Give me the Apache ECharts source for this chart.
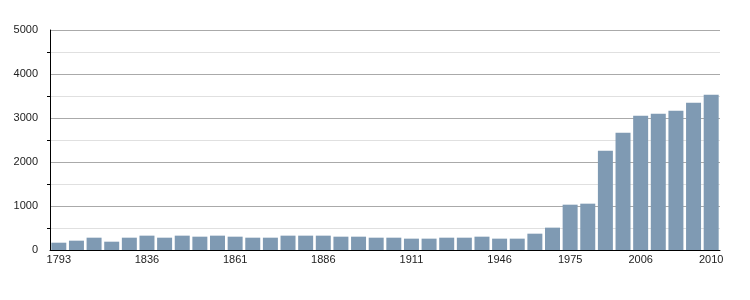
<!DOCTYPE html>
<html>
<head>
<meta charset="utf-8">
<script src="https://cdn.jsdelivr.net/npm/echarts@6/dist/echarts.min.js"></script>
<style>html,body{margin:0;padding:0;background:#fff}#c{width:750px;height:300px}</style>
</head>
<body>
<div id="c"></div>
<script>
var years = ['1793','1800','1806','1821','1831','1836','1841','1846','1851','1856','1861','1866','1872','1876','1881','1886','1891','1896','1901','1906','1911','1921','1926','1931','1936','1946','1954','1962','1968','1975','1982','1990','1999','2006','2007','2008','2009','2010'];
var population = [166,212,280,189,280,326,280,326,303,326,303,280,280,326,326,326,303,303,280,280,258,258,280,280,303,258,258,371,508,1030,1053,2258,2667,3053,3098,3167,3349,3530];
var shownLabelIndices = [0,5,10,15,20,25,29,33,37];
var yTicks = [0,1000,2000,3000,4000,5000];

var chart = echarts.init(document.getElementById('c'), null, {renderer:'canvas'});
chart.setOption({
  animation: false,
  backgroundColor: '#fff',
  grid: {left: 50, right: 30, top: 30, bottom: 50},
  xAxis: {
    type: 'category',
    data: years,
    axisLine: {lineStyle: {color: '#000', width: 1}},
    axisTick: {show: false},
    axisLabel: {
      interval: function(i){ return shownLabelIndices.indexOf(i) >= 0; },
      color: '#222', fontSize: 11, fontFamily: 'Liberation Sans, Arial, sans-serif', margin: 4
    }
  },
  yAxis: {
    type: 'value',
    min: yTicks[0], max: yTicks[yTicks.length-1], interval: 1000,
    axisLine: {show: true, lineStyle: {color: '#000', width: 1}},
    axisTick: {show: false},
    minorTick: {show: true, splitNumber: 2, length: 3, lineStyle: {color: '#000'}},
    minorSplitLine: {show: true, lineStyle: {color: '#e0e0e0', width: 1}},
    splitLine: {show: true, lineStyle: {color: '#aaa', width: 1}},
    axisLabel: {
      formatter: function(v){ return String(v); },
      color: '#222', fontSize: 11, fontFamily: 'Liberation Sans, Arial, sans-serif', margin: 12
    }
  },
  series: [{
    type: 'bar',
    data: population,
    barCategoryGap: '15%',
    itemStyle: {color: '#7f9ab3'}
  }]
});
</script>
</body>
</html>
